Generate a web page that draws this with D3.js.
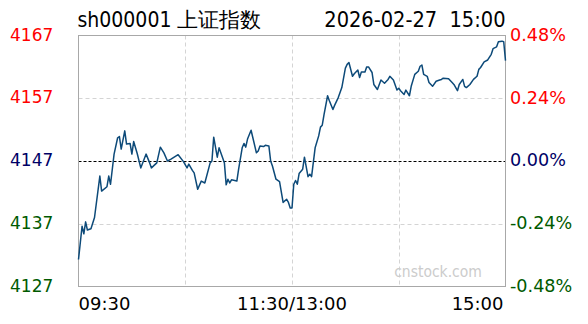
<!DOCTYPE html>
<html>
<head>
<meta charset="utf-8">
<script src="https://cdn.jsdelivr.net/npm/d3@7"></script>
<style>
  body { margin: 0; background: #fff; }
  svg { display: block; font-family: "DejaVu Sans Condensed", "DejaVu Sans", sans-serif; }
</style>
</head>
<body>
<div id="chart"></div>
<script>
// minute offset from 09:30 (0..240, the lunch break is collapsed at 120)
const minutes = [0, 2, 3, 4, 5, 7, 9, 12, 13, 16, 17, 18, 20, 22, 23, 24, 26, 27, 29, 30,
  31, 33, 35, 38, 40, 41, 44, 46, 48, 50, 52, 56, 59, 61, 62, 64, 65, 67, 69, 71,
  74, 75, 76, 78, 79, 81, 82, 83, 84, 85, 86, 89, 90, 92, 93, 94, 95, 97, 98, 100,
  101, 102, 104, 105, 107, 108, 109, 111, 113, 115, 117, 118, 119, 120, 121, 122, 123, 124, 126, 127,
  129, 130, 131, 133, 135, 136, 137, 138, 140, 141, 143, 144, 146, 148, 150, 151, 152, 154, 155, 157,
  158, 159, 161, 162, 163, 165, 166, 168, 170, 172, 174, 175, 177, 179, 180, 181, 183, 184, 186, 187,
  189, 191, 192, 193, 194, 196, 197, 199, 201, 203, 204, 205, 208, 210, 211, 213, 214, 216, 217, 218,
  220, 222, 224, 225, 226, 228, 230, 232, 233, 235, 236, 238, 239, 240];
const prices = [4131.3, 4136.6, 4135.4, 4137.3, 4136.0, 4136.2, 4138.0, 4144.6, 4142.2, 4142.9, 4144.6, 4143.3, 4148.1, 4150.7, 4150.9, 4148.9, 4151.8, 4149.7, 4149.8, 4148.1,
  4150.1, 4148.2, 4145.9, 4148.1, 4146.7, 4145.9, 4146.7, 4149.2, 4148.3, 4147.0, 4147.3, 4148.0, 4146.9, 4145.9, 4146.5, 4145.5, 4145.1, 4142.5, 4143.8, 4143.5,
  4146.7, 4147.0, 4150.8, 4147.6, 4149.1, 4147.5, 4146.7, 4143.2, 4144.1, 4143.5, 4144.0, 4143.8, 4145.7, 4149.1, 4149.8, 4149.2, 4150.5, 4151.9, 4150.7, 4148.3,
  4148.6, 4149.4, 4149.3, 4149.5, 4149.4, 4147.0, 4146.2, 4144.1, 4143.7, 4140.4, 4140.9, 4140.4, 4139.5, 4139.5, 4143.3, 4143.9, 4143.3, 4145.0, 4145.7, 4147.6,
  4144.5, 4144.9, 4144.5, 4149.1, 4151.0, 4152.4, 4152.7, 4154.4, 4157.4, 4156.6, 4155.2, 4155.9, 4157.1, 4158.7, 4161.8, 4162.4, 4162.7, 4160.5, 4160.9, 4161.5,
  4160.3, 4161.2, 4161.2, 4162.0, 4162.0, 4161.1, 4159.2, 4158.4, 4159.9, 4159.4, 4160.0, 4160.5, 4159.9, 4158.3, 4158.6, 4158.2, 4157.6, 4158.3, 4157.4, 4158.9,
  4160.8, 4161.3, 4162.1, 4162.3, 4160.8, 4160.5, 4159.5, 4158.9, 4159.7, 4159.9, 4160.0, 4160.2, 4160.1, 4159.5, 4159.2, 4158.2, 4159.2, 4160.0, 4158.9, 4158.7,
  4159.2, 4160.0, 4160.5, 4161.6, 4161.9, 4162.8, 4163.1, 4164.0, 4164.9, 4165.2, 4166.0, 4166.1, 4166.0, 4163.0];

const preClose = 4147;
const priceTicks = [4167, 4157, 4147, 4137, 4127];
const pctTicks = ["0.48%", "0.24%", "0.00%", "-0.24%", "-0.48%"];
const timeTicks = [0, 120, 240];
const timeLabels = ["09:30", "11:30/13:00", "15:00"];
const gridMinutes = [60, 120, 180];

const W = 588, H = 324;
const plot = { left: 78.5, right: 505.5, top: 35.5, bottom: 286.5 };

const x = d3.scaleLinear().domain([0, 240]).range([plot.left, plot.right]);
const y = d3.scaleLinear().domain([4127, 4167]).range([plot.bottom, plot.top]);

const tickColor = (v) => (v > preClose ? "#ff0000" : v < preClose ? "#005a00" : "#000066");

const svg = d3.select("#chart").append("svg").attr("width", W).attr("height", H);

// grid
svg.append("g")
  .selectAll("line")
  .data(priceTicks.filter((v) => v !== preClose && v !== 4167 && v !== 4127))
  .join("line")
  .attr("x1", plot.left).attr("x2", plot.right)
  .attr("y1", (d) => Math.round(y(d)) + 0.5).attr("y2", (d) => Math.round(y(d)) + 0.5)
  .attr("stroke", "#d4d4d4").attr("stroke-dasharray", "4,3");

svg.append("g")
  .selectAll("line")
  .data(gridMinutes)
  .join("line")
  .attr("x1", (d) => Math.round(x(d)) + 0.5).attr("x2", (d) => Math.round(x(d)) + 0.5)
  .attr("y1", plot.top).attr("y2", plot.bottom)
  .attr("stroke", "#d4d4d4").attr("stroke-dasharray", "4,3");

// previous close
svg.append("line")
  .attr("x1", plot.left).attr("x2", plot.right)
  .attr("y1", Math.round(y(preClose)) + 0.5).attr("y2", Math.round(y(preClose)) + 0.5)
  .attr("stroke", "#000").attr("stroke-dasharray", "3,2");

// frame
svg.append("rect")
  .attr("x", plot.left).attr("y", plot.top)
  .attr("width", plot.right - plot.left).attr("height", plot.bottom - plot.top)
  .attr("fill", "none").attr("stroke", "#a8a8a8");

// watermark
svg.append("text")
  .attr("x", 438).attr("y", 277)
  .attr("text-anchor", "middle")
  .attr("font-size", 15.5)
  .attr("fill", "#cccccc")
  .text("cnstock.com");

// price line
const line = d3.line()
  .x((d, i) => x(minutes[i]))
  .y((d) => y(d));

svg.append("path")
  .datum(prices)
  .attr("d", line)
  .attr("fill", "none")
  .attr("stroke", "#0d4a79")
  .attr("stroke-width", 1.5)
  .attr("stroke-linejoin", "round");

// left labels
svg.append("g")
  .selectAll("text")
  .data(priceTicks)
  .join("text")
  .attr("x", 10)
  .attr("y", (d) => y(d) - 1)
  .attr("dy", "0.36em")
  .attr("font-family", "DejaVu Sans")
  .attr("font-size", 17)
  .attr("fill", tickColor)
  .text((d) => d);

// right labels
svg.append("g")
  .selectAll("text")
  .data(priceTicks)
  .join("text")
  .attr("x", 510)
  .attr("y", (d) => y(d) - 1)
  .attr("dy", "0.36em")
  .attr("font-family", "DejaVu Sans")
  .attr("font-size", 17.6)
  .attr("fill", tickColor)
  .text((d, i) => pctTicks[i]);

// time labels
svg.append("g")
  .selectAll("text")
  .data(timeTicks)
  .join("text")
  .attr("x", (d, i) => (i === 0 ? plot.left : i === 2 ? plot.right - 2 : x(d)))
  .attr("y", 310)
  .attr("text-anchor", (d, i) => (i === 0 ? "start" : i === 2 ? "end" : "middle"))
  .attr("font-family", "DejaVu Sans")
  .attr("font-size", 18)
  .attr("fill", "#000")
  .text((d, i) => timeLabels[i]);

// header
svg.append("text")
  .attr("x", plot.left - 1).attr("y", 27)
  .attr("font-size", 21)
  .attr("fill", "#000")
  .text("sh000001 上证指数");

svg.append("text")
  .attr("x", plot.right).attr("y", 27)
  .attr("text-anchor", "end")
  .attr("font-size", 21.6)
  .attr("fill", "#000")
  .style("white-space", "pre")
  .text("2026-02-27  15:00");
</script>
</body>
</html>
